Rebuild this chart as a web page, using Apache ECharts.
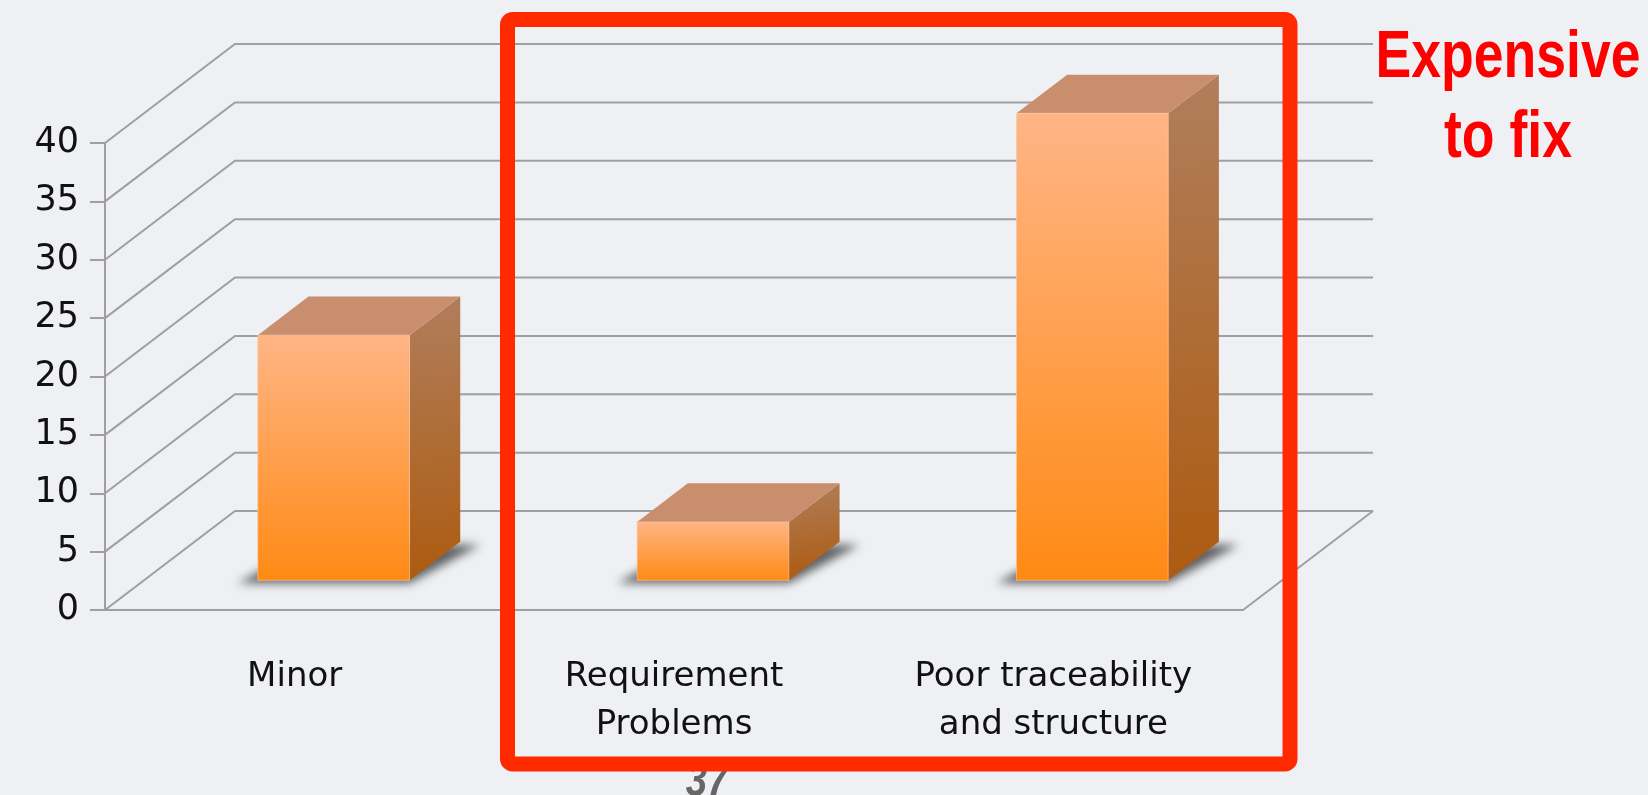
<!DOCTYPE html>
<html>
<head>
<meta charset="utf-8">
<title>Defects</title>
<script src="https://cdn.jsdelivr.net/npm/echarts@6/dist/echarts.min.js"></script>
<style>
  html, body { margin: 0; padding: 0; background: #eff0f4; }
  #main { width: 1648px; height: 795px; }
</style>
</head>
<body>
<div id="main"></div>
<script>
const categories = ["Minor", "Requirement\nProblems", "Poor traceability\nand structure"];
const values = [21, 5, 40];
const yTicks = [0, 5, 10, 15, 20, 25, 30, 35, 40];

// fake 3d depth of the box (pixels) and where the bars sit inside it
const DX = 130, DY = 99;
const NEAR = 0.30, FAR = 0.69, BAR_W = 0.4;
const LINE = "#9f9f9f";
const FONT = "DejaVu Sans";
const OFF = 3000; // shadow shapes are drawn off screen, only their blur shows

let myChart = echarts.init(document.getElementById("main"));

// back wall + left side lines for every tick
function renderWall(params, api) {
  const v = api.value(1);
  const band = api.size([1, 0])[0];
  const p = api.coord([0, v]);
  const left = p[0] - band / 2;
  const right = api.coord([categories.length - 1, v])[0] + band / 2;
  const y = p[1];
  const children = [{
    type: "polyline",
    shape: { points: [[left, y], [left + DX, y - DY], [right + DX, y - DY]] },
    style: { stroke: LINE, lineWidth: 2, fill: null }
  }];
  if (v === 0) {
    children.push({
      type: "line",
      shape: { x1: right, y1: y, x2: right + DX, y2: y - DY },
      style: { stroke: LINE, lineWidth: 2 }
    });
  }
  return { type: "group", children: children };
}

function renderBar(params, api) {
  const idx = api.value(0);
  const band = api.size([1, 0])[0];
  const base = api.coord([idx, 0]);
  const top = api.coord([idx, api.value(1)]);
  const w = band * BAR_W;
  const x0 = base[0] - w / 2 + DX * NEAR;
  const y0 = base[1] - DY * NEAR;
  const h = base[1] - top[1];
  const x1 = x0 + w, yt = y0 - h;
  const ddx = DX * (FAR - NEAR), ddy = DY * (FAR - NEAR);

  return {
    type: "group",
    children: [
      {
        type: "polygon",
        shape: {
          points: [
            [x0 - 20 - OFF, y0 + 3], [x1 - OFF, y0 + 3],
            [x1 + ddx + 20 - OFF, y0 - ddy + 3], [x0 + ddx - OFF, y0 - ddy + 3]
          ]
        },
        style: {
          fill: "#555",
          shadowBlur: 10,
          shadowOffsetX: OFF,
          shadowColor: "rgba(60,60,60,0.8)"
        }
      },
      {
        type: "polygon",
        shape: { points: [[x1, yt], [x1 + ddx, yt - ddy], [x1 + ddx, y0 - ddy], [x1, y0]] },
        style: {
          fill: new echarts.graphic.LinearGradient(0, 0, 0.3, 1, [
            { offset: 0, color: "#b07e5c" },
            { offset: 1, color: "#ad5b10" }
          ])
        }
      },
      {
        type: "polygon",
        shape: { points: [[x0, yt], [x0 + ddx, yt - ddy], [x1 + ddx, yt - ddy], [x1, yt]] },
        style: { fill: "#c98e6d" }
      },
      {
        type: "rect",
        shape: { x: x0, y: yt, width: w, height: h },
        style: {
          fill: new echarts.graphic.LinearGradient(0, 0, 0, 1, [
            { offset: 0, color: "#ffb586" },
            { offset: 1, color: "#ff8a14" }
          ]),
          stroke: "rgba(255,200,160,0.6)",
          lineWidth: 1
        }
      }
    ]
  };
}

let option = {
  backgroundColor: "#eff0f4",
  animation: false,
  grid: { left: 105, right: 405, top: 143, bottom: 185 },
  xAxis: {
    type: "category",
    data: categories,
    axisLine: { lineStyle: { color: LINE, width: 2 } },
    axisTick: { length: 13, lineStyle: { color: LINE, width: 2 } },
    axisLabel: {
      interval: 0,
      color: "#111",
      fontFamily: FONT,
      fontSize: 34,
      lineHeight: 48,
      margin: 43
    },
    splitLine: { show: false }
  },
  yAxis: {
    type: "value",
    min: 0,
    max: 40,
    interval: 5,
    axisLine: { show: true, lineStyle: { color: LINE, width: 2 } },
    axisTick: { show: true, length: 15, lineStyle: { color: LINE, width: 2 } },
    axisLabel: { color: "#111", fontFamily: FONT, fontSize: 35, margin: 26 },
    splitLine: { show: false }
  },
  series: [
    {
      type: "custom",
      renderItem: renderWall,
      data: yTicks.map(function (v) { return [0, v]; }),
      z: 1,
      silent: true
    },
    {
      type: "custom",
      renderItem: renderBar,
      data: values.map(function (v, i) { return [i, v]; }),
      z: 3
    }
  ],
  graphic: [
    {
      type: "text",
      z: 10,
      x: 707,
      y: 783,
      scaleX: 0.8,
      style: {
        text: "37",
        x: 0,
        y: 0,
        align: "center",
        verticalAlign: "middle",
        fill: "#666",
        font: 'italic bold 48px "Liberation Sans", sans-serif'
      }
    },
    {
      type: "rect",
      z: 20,
      shape: { x: 507.5, y: 19.5, width: 782.5, height: 744.5, r: 5 },
      style: { fill: null, stroke: "#ff2a00", lineWidth: 15 }
    },
    {
      type: "text",
      z: 20,
      x: 1508,
      y: 19,
      scaleX: 0.8,
      style: {
        text: "Expensive\nto fix",
        x: 0,
        y: 0,
        align: "center",
        verticalAlign: "top",
        lineHeight: 80,
        fill: "#ff0000",
        font: 'bold 67px "Liberation Sans", sans-serif'
      }
    }
  ]
};

myChart.setOption(option);
</script>
</body>
</html>
